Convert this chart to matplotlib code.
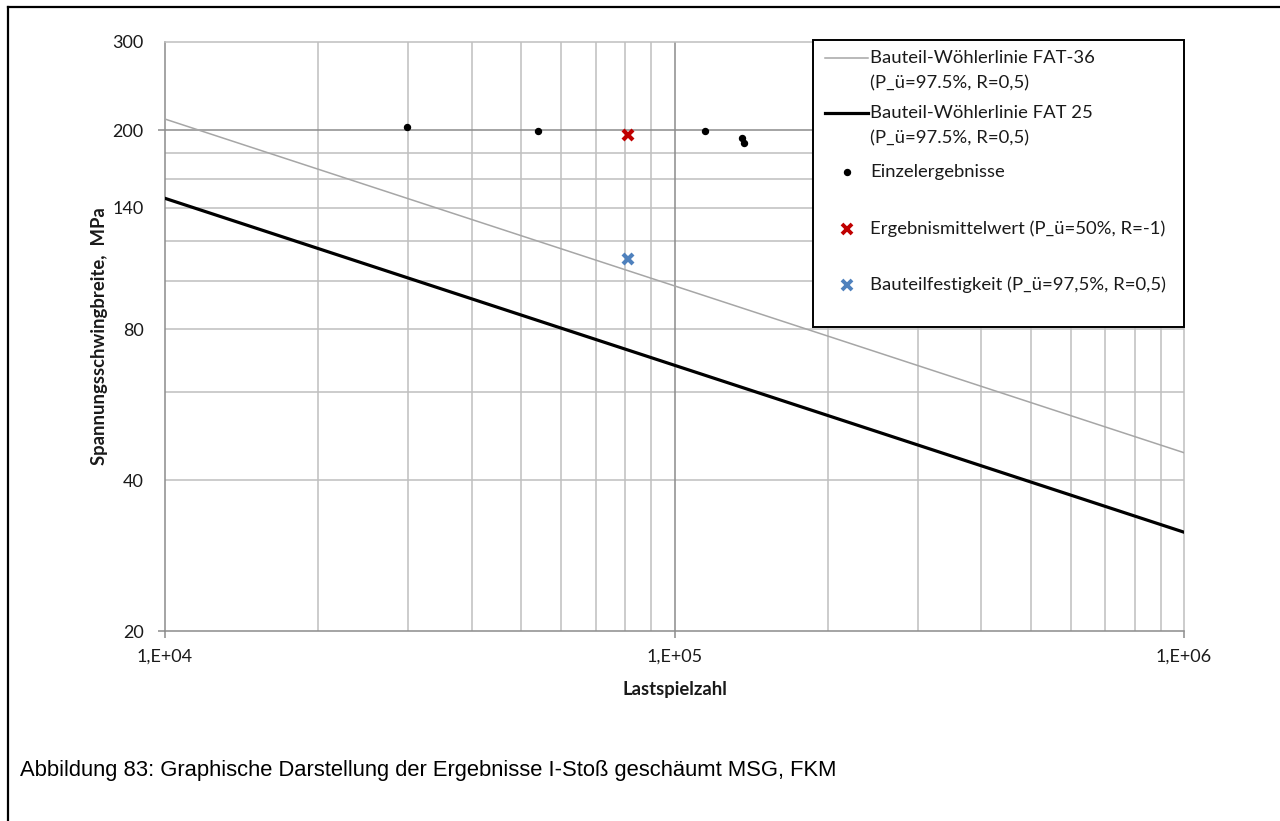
import matplotlib
matplotlib.use("Agg")
import matplotlib.pyplot as plt
from matplotlib.lines import Line2D
from matplotlib.patches import Rectangle
from matplotlib.ticker import FixedLocator, NullFormatter, FixedFormatter

# S-N curves (end points at N = 1e4 and N = 1e6, log-log straight lines)
curve_n = [1e4, 1e6]
fat36_s = [210.5, 45.4]
fat25_s = [146.2, 31.5]

# individual test results
einzel_n = [29900, 53900, 114800, 135500, 136900]
einzel_s = [203.2, 199.0, 199.0, 193.2, 188.6]

# mean value and component strength
mittel_n = [80900]
mittel_s = [195.9]
festigkeit_n = [80900]
festigkeit_s = [110.6]

y_tick_values = [20, 40, 80, 140, 200, 300]
y_tick_labels = ["20", "40", "80", "140", "200", "300"]
x_tick_values = [1e4, 1e5, 1e6]
x_tick_labels = ["1,E+04", "1,E+05", "1,E+06"]

legend_labels = [
    "Bauteil-Wöhlerlinie FAT-36\n(P_ü=97.5%, R=0,5)",
    "Bauteil-Wöhlerlinie FAT 25\n(P_ü=97.5%, R=0,5)",
    "Einzelergebnisse",
    "Ergebnismittelwert (P_ü=50%, R=-1)",
    "Bauteilfestigkeit (P_ü=97,5%, R=0,5)",
]

FONT = "Lato"
LIGHT = "#BFBFBF"
DARK = "#8C8C8C"
RED = "#C00000"
BLUE = "#4F81BD"
TXT = "#1A1A1A"

W, H = 1280, 821
fig = plt.figure(figsize=(W / 100, H / 100), dpi=100)
AX_L, AX_R, AX_T, AX_B = 165, 1184, 42, 631
ax = fig.add_axes([AX_L / W, (H - AX_B) / H, (AX_R - AX_L) / W, (AX_B - AX_T) / H])


def ax_frac(px, py):
    """Pixel position on the canvas -> axes fraction."""
    return (px - AX_L) / (AX_R - AX_L), (AX_B - py) / (AX_B - AX_T)


ax.set_xscale("log")
ax.set_yscale("log")
ax.set_xlim(1e4, 1e6)
ax.set_ylim(20, 300)

# grid
for v in [40, 60, 80, 100, 120, 140, 160, 180]:
    ax.axhline(v, color=LIGHT, lw=1.1, zorder=0)
ax.axhline(200, color=DARK, lw=1.1, zorder=0.5)
for dec in [1e4, 1e5]:
    for k in range(2, 10):
        ax.axvline(k * dec, color=LIGHT, lw=1.1, zorder=0)
ax.axvline(1e5, color=DARK, lw=1.1, zorder=0.5)

for side in ["top", "right"]:
    ax.spines[side].set_color(LIGHT)
    ax.spines[side].set_linewidth(1.1)
for side in ["left", "bottom"]:
    ax.spines[side].set_color(DARK)
    ax.spines[side].set_linewidth(1.1)

# y ticks: outward marks only at 20 and 200
ax.yaxis.set_major_locator(FixedLocator([20, 200]))
ax.yaxis.set_major_formatter(FixedFormatter(["20", "200"]))
ax.yaxis.set_minor_locator(FixedLocator([v for v in y_tick_values if v not in (20, 200)]))
ax.yaxis.set_minor_formatter(FixedFormatter([l for v, l in zip(y_tick_values, y_tick_labels) if v not in (20, 200)]))
ax.tick_params(axis="y", which="major", length=5, width=1.1, color=DARK, pad=10.5)
ax.tick_params(axis="y", which="minor", length=0, pad=15.5)

ax.xaxis.set_major_locator(FixedLocator(x_tick_values))
ax.xaxis.set_major_formatter(FixedFormatter(x_tick_labels))
ax.xaxis.set_minor_formatter(NullFormatter())
ax.tick_params(axis="x", which="major", length=5, width=1.1, color=DARK, pad=8)
ax.tick_params(axis="x", which="minor", length=0)

for lab in ax.get_xticklabels() + ax.get_yticklabels() + ax.get_yticklabels(minor=True):
    lab.set_fontfamily(FONT)
    lab.set_fontsize(13)
    lab.set_color(TXT)

# data
ax.plot(curve_n, fat36_s, color="#A6A6A6", lw=1.1, zorder=3)
ax.plot(curve_n, fat25_s, color="black", lw=2.3, zorder=3)
ax.plot(einzel_n, einzel_s, ls="none", marker="o", ms=4.3, color="black", zorder=4)
ax.plot(mittel_n, mittel_s, ls="none", marker="x", ms=7.5, mew=3, color=RED, zorder=4)
ax.plot(festigkeit_n, festigkeit_s, ls="none", marker="x", ms=7.5, mew=3, color=BLUE, zorder=4)

ax.set_xlabel("Lastspielzahl", fontfamily=FONT, fontweight="bold", fontsize=13.3, color=TXT)
ax.xaxis.set_label_coords(0.5, ax_frac(0, 681)[1])
ax.xaxis.label.set_va("top")
ax.set_ylabel("Spannungsschwingbreite,  MPa", fontfamily=FONT, fontweight="bold", fontsize=13.3, color=TXT)
ax.yaxis.set_label_coords(ax_frac(108, 0)[0], 0.5)

# legend box
lx0, ly0 = ax_frac(813, 327)
lx1, ly1 = ax_frac(1184, 40)
ax.add_patch(Rectangle((lx0, ly0), lx1 - lx0, ly1 - ly0, transform=ax.transAxes,
                       facecolor="white", edgecolor="black", lw=1.4, clip_on=False, zorder=10))

LEG_FS = 13.3
text_x = ax_frac(870, 0)[0]
h_x0, h_x1 = ax_frac(825, 0)[0], ax_frac(868, 0)[0]
h_mid = ax_frac(847, 0)[0]
rows = [58, 113, 172, 229, 285]
handle_styles = [
    dict(kind="line", color="#A6A6A6", lw=1.1),
    dict(kind="line", color="black", lw=2.3),
    dict(kind="marker", marker="o", ms=4.3, mew=1, color="black"),
    dict(kind="marker", marker="x", ms=7, mew=2.8, color=RED),
    dict(kind="marker", marker="x", ms=7, mew=2.8, color=BLUE),
]
for row_y, label, style in zip(rows, legend_labels, handle_styles):
    yy = ax_frac(0, row_y)[1]
    if style["kind"] == "line":
        ax.add_line(Line2D([h_x0, h_x1], [yy, yy], transform=ax.transAxes, color=style["color"],
                           lw=style["lw"], clip_on=False, zorder=11))
    else:
        ax.add_line(Line2D([h_mid], [yy], transform=ax.transAxes, ls="none", marker=style["marker"],
                           ms=style["ms"], mew=style["mew"], color=style["color"], clip_on=False, zorder=11))
    lines = label.split("\n")
    for i, line in enumerate(lines):
        ty = ax_frac(0, row_y + i * 25.5)[1]
        ax.text(text_x, ty, line, transform=ax.transAxes, fontfamily=FONT, fontsize=LEG_FS,
                color=TXT, va="center", ha="left", zorder=12)

# caption and outer frame
fig.text(20 / W, (H - 770) / H, "Abbildung 83: Graphische Darstellung der Ergebnisse I-Stoß geschäumt MSG, FKM",
         fontfamily="Liberation Sans", fontsize=15.85, va="center", ha="left", color="black")
fig.add_artist(Line2D([8 / W, 8 / W], [0, (H - 7) / H], color="black", lw=1.6, transform=fig.transFigure))
fig.add_artist(Line2D([8 / W, 1], [(H - 7) / H, (H - 7) / H], color="black", lw=1.6, transform=fig.transFigure))

fig.savefig("out.png", dpi=100)
